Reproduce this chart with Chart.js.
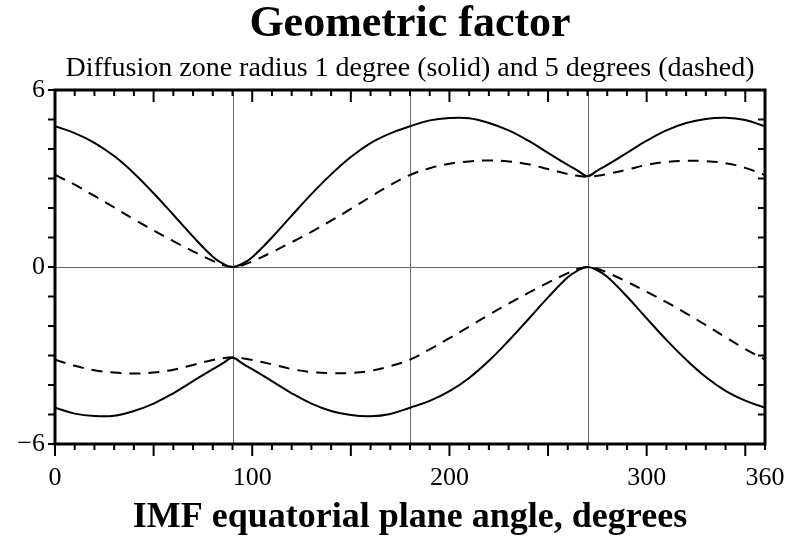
<!DOCTYPE html>
<html>
<head>
<meta charset="utf-8">
<script src="https://cdn.jsdelivr.net/npm/chart.js@4.4.1/dist/chart.umd.min.js"></script>
<style>
  html, body { margin: 0; padding: 0; background: #fff; }
</style>
</head>
<body>
<canvas id="geoFactor" width="789" height="541"></canvas>
<script>
const angles = [0, 10, 20, 30, 40, 50, 60, 70, 80, 85, 90, 95, 100, 110, 120, 130, 140, 150, 160, 170,
  180, 190, 200, 210, 220, 230, 240, 250, 260, 265, 270, 275, 280, 290, 300, 310, 320, 330, 340, 350, 360];

// radius 1 degree (solid)
const solidUpper = [4.77, 4.54, 4.21, 3.76, 3.18, 2.50, 1.77, 1.03, 0.35, 0.12, 0, 0.11, 0.33, 1.00, 1.74, 2.47, 3.14, 3.73, 4.20, 4.53,
  4.77, 4.97, 5.05, 5.04, 4.88, 4.63, 4.28, 3.87, 3.46, 3.27, 3.08, 3.27, 3.46, 3.87, 4.28, 4.63, 4.88, 5.02, 5.06, 4.98, 4.77];
const solidLower = [-4.77, -4.97, -5.05, -5.04, -4.88, -4.63, -4.28, -3.87, -3.46, -3.27, -3.08, -3.27, -3.46, -3.87, -4.28, -4.63, -4.88, -5.02, -5.06, -4.98,
  -4.77, -4.54, -4.21, -3.76, -3.18, -2.50, -1.77, -1.03, -0.35, -0.12, 0, -0.11, -0.33, -1.00, -1.74, -2.47, -3.14, -3.73, -4.20, -4.53, -4.77];

// radius 5 degrees (dashed)
const dashedUpper = [3.12, 2.79, 2.41, 2.02, 1.62, 1.24, 0.88, 0.53, 0.21, 0.07, 0, 0.06, 0.19, 0.50, 0.84, 1.19, 1.57, 1.97, 2.38, 2.78,
  3.12, 3.35, 3.50, 3.58, 3.61, 3.58, 3.48, 3.32, 3.15, 3.09, 3.06, 3.09, 3.15, 3.30, 3.46, 3.56, 3.60, 3.59, 3.52, 3.36, 3.12];
const dashedLower = [-3.14, -3.35, -3.50, -3.58, -3.61, -3.58, -3.48, -3.32, -3.15, -3.09, -3.06, -3.09, -3.15, -3.30, -3.46, -3.56, -3.60, -3.59, -3.52, -3.36,
  -3.14, -2.79, -2.41, -2.02, -1.62, -1.24, -0.88, -0.53, -0.21, -0.07, 0, -0.06, -0.19, -0.50, -0.84, -1.19, -1.57, -1.97, -2.38, -2.78, -3.14];

const xTickLabels = [0, 100, 200, 300, 360];
const yTickLabels = [-6, 0, 6];
const gridAngles = [90, 180, 270];

const serif = "'Liberation Serif', 'Times New Roman', serif";

function pts(values) {
    return angles.map(function (a, i) {
        return { x: a, y: values[i] };
    });
}

function lineSet(label, values, dashed) {
    return {
        label: label,
        data: pts(values),
        borderColor: '#000',
        borderWidth: 2,
        borderDash: dashed ? [11, 8] : [],
        pointRadius: 0,
        tension: 0.4,
        fill: false,
    };
}

// frame, inner/outer tick marks and the thin reference lines
const frameAndTicks = {
    id: 'frameAndTicks',
    beforeDatasetsDraw(chart) {
        const { ctx, chartArea: a, scales: { x, y } } = chart;
        ctx.save();
        ctx.strokeStyle = '#666';
        ctx.lineWidth = 1;
        ctx.beginPath();
        for (const g of gridAngles) {
            const px = Math.round(x.getPixelForValue(g)) + 0.5;
            ctx.moveTo(px, a.top);
            ctx.lineTo(px, a.bottom);
        }
        const py = Math.round(y.getPixelForValue(0)) + 0.5;
        ctx.moveTo(a.left, py);
        ctx.lineTo(a.right, py);
        ctx.stroke();
        ctx.restore();
    },
    afterDraw(chart) {
        const { ctx, chartArea: a, scales: { x, y } } = chart;
        ctx.save();
        ctx.strokeStyle = '#000';
        ctx.lineWidth = 2;
        ctx.beginPath();
        for (let d = 0; d <= 360; d += 10) {
            const px = x.getPixelForValue(d);
            const len = d % 50 === 0 ? 12 : 6;
            ctx.moveTo(px, a.top);
            ctx.lineTo(px, a.top + len);
            ctx.moveTo(px, a.bottom);
            ctx.lineTo(px, a.bottom + len);
        }
        for (let v = -6; v <= 6; v += 1) {
            const py = y.getPixelForValue(v);
            ctx.moveTo(a.left - 7, py);
            ctx.lineTo(a.left, py);
            ctx.moveTo(a.right - 7, py);
            ctx.lineTo(a.right, py);
        }
        ctx.stroke();
        ctx.lineWidth = 3;
        ctx.strokeRect(a.left, a.top, a.right - a.left, a.bottom - a.top);
        ctx.restore();
    }
};

Chart.defaults.font.family = serif;
Chart.defaults.color = '#000';

let ctx = document.getElementById('geoFactor');
new Chart(ctx, {
    type: 'line',
    data: {
        datasets: [
            lineSet('Upper, 1 degree', solidUpper, false),
            lineSet('Upper, 5 degrees', dashedUpper, true),
            lineSet('Lower, 1 degree', solidLower, false),
            lineSet('Lower, 5 degrees', dashedLower, true),
        ],
    },
    options: {
        responsive: false,
        animation: false,
        devicePixelRatio: 1,
        layout: { padding: { left: 0, right: 24, top: 0, bottom: 0 } },
        plugins: {
            legend: { display: false },
            tooltip: { enabled: false },
            title: {
                display: true,
                text: 'Geometric factor',
                fullSize: false,
                font: { size: 44, weight: 'bold', lineHeight: 1 },
                padding: { top: 3, bottom: 8 },
            },
            subtitle: {
                display: true,
                text: 'Diffusion zone radius 1 degree (solid) and 5 degrees (dashed)',
                fullSize: false,
                font: { size: 28, lineHeight: 1 },
                padding: { top: 0, bottom: 7 },
            },
        },
        scales: {
            x: {
                type: 'linear',
                min: 0,
                max: 360,
                afterBuildTicks: function (scale) {
                    scale.ticks = xTickLabels.map(function (v) { return { value: v }; });
                },
                afterFit: function (scale) {
                    scale.height = 97;
                    scale.paddingLeft = 0;
                    scale.paddingRight = 0;
                },
                grid: { display: true, drawOnChartArea: false, drawTicks: false },
                border: { display: false },
                ticks: { font: { size: 26 }, padding: 19, maxRotation: 0, autoSkip: false },
                title: {
                    display: true,
                    text: 'IMF equatorial plane angle, degrees',
                    font: { size: 36, weight: 'bold', lineHeight: 1 },
                    padding: { top: 0, bottom: 5 },
                },
            },
            y: {
                min: -6,
                max: 6,
                afterBuildTicks: function (scale) {
                    scale.ticks = yTickLabels.map(function (v) { return { value: v }; });
                },
                afterFit: function (scale) {
                    scale.width = 55;
                    scale.paddingTop = 0;
                    scale.paddingBottom = 0;
                },
                grid: { display: true, drawOnChartArea: false, drawTicks: false },
                border: { display: false },
                ticks: {
                    font: { size: 26 },
                    padding: 10,
                    callback: function (v) { return v < 0 ? '\u2212' + Math.abs(v) : String(v); },
                },
            },
        },
    },
    plugins: [frameAndTicks],
});
</script>
</body>
</html>
